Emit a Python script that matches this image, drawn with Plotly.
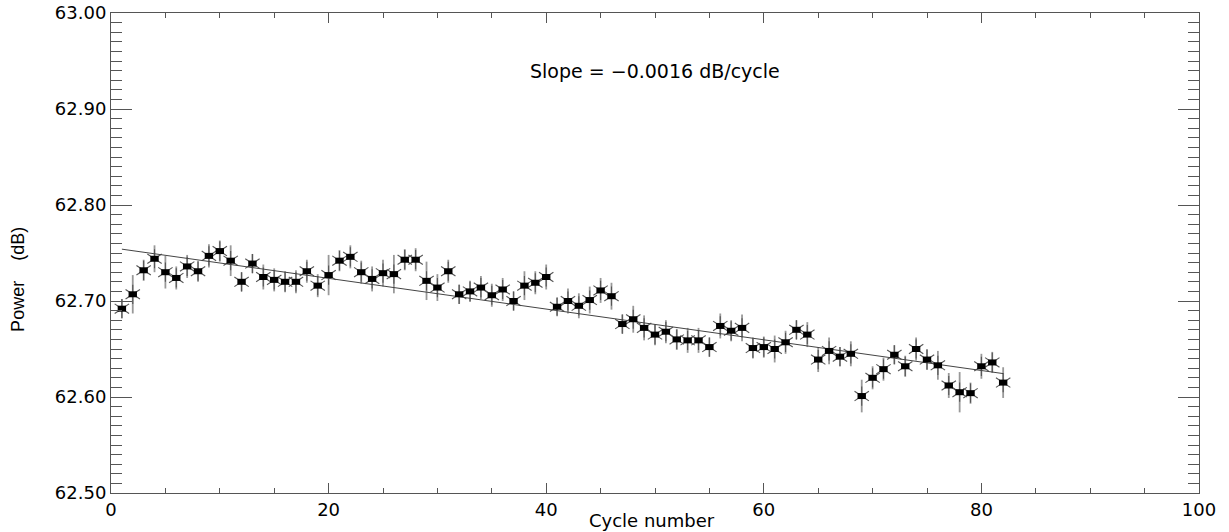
import plotly.graph_objects as go
import numpy as np

cycles = list(range(1, 83))
power_db = [
    62.692, 62.707, 62.732, 62.744, 62.730, 62.724, 62.736, 62.731, 62.747, 62.752,
    62.742, 62.720, 62.739, 62.725, 62.722, 62.720, 62.720, 62.731, 62.716, 62.727,
    62.742, 62.746, 62.730, 62.723, 62.729, 62.728, 62.743, 62.743, 62.721, 62.714,
    62.731, 62.707, 62.710, 62.714, 62.706, 62.712, 62.700, 62.716, 62.719, 62.725,
    62.694, 62.700, 62.695, 62.701, 62.711, 62.705, 62.676, 62.681, 62.672, 62.665,
    62.668, 62.660, 62.659, 62.659, 62.652, 62.674, 62.669, 62.672, 62.651, 62.652,
    62.650, 62.657, 62.670, 62.665, 62.639, 62.648, 62.642, 62.645, 62.601, 62.620,
    62.629, 62.644, 62.632, 62.650, 62.639, 62.633, 62.612, 62.605, 62.604, 62.632,
    62.636, 62.615,
]
power_err = [
    0.010, 0.020, 0.011, 0.014, 0.017, 0.012, 0.012, 0.011, 0.012, 0.011,
    0.016, 0.010, 0.010, 0.013, 0.012, 0.011, 0.012, 0.012, 0.012, 0.021,
    0.011, 0.012, 0.012, 0.013, 0.014, 0.020, 0.011, 0.012, 0.020, 0.014,
    0.012, 0.010, 0.011, 0.012, 0.012, 0.012, 0.010, 0.015, 0.012, 0.013,
    0.009, 0.013, 0.013, 0.014, 0.013, 0.014, 0.010, 0.014, 0.013, 0.011,
    0.012, 0.011, 0.013, 0.013, 0.010, 0.013, 0.011, 0.014, 0.011, 0.011,
    0.014, 0.012, 0.010, 0.013, 0.013, 0.014, 0.010, 0.013, 0.017, 0.012,
    0.012, 0.010, 0.011, 0.012, 0.011, 0.015, 0.013, 0.021, 0.011, 0.013,
    0.011, 0.016,
]
fit_slope = -0.0016
fit_intercept = 62.7556
fit_range = [1, 82]

x_ticks = [0, 20, 40, 60, 80, 100]
y_ticks = [62.50, 62.60, 62.70, 62.80, 62.90, 63.00]
y_ticklabels = ["62.50", "62.60", "62.70", "62.80", "62.90", "63.00"]

FONT = "DejaVu Sans, Liberation Sans, Arial, sans-serif"

fig = go.Figure()

# error bars
fig.add_trace(go.Scatter(
    x=cycles, y=power_db, mode="markers",
    marker=dict(size=1, color="rgba(0,0,0,0)"),
    error_y=dict(type="data", array=power_err, visible=True,
                 color="#999999", thickness=1.8, width=0),
    showlegend=False, hoverinfo="skip"))

# star arms (6-pointed)
for sym in ["y-up-open", "y-down-open"]:
    fig.add_trace(go.Scatter(
        x=cycles, y=power_db, mode="markers",
        marker=dict(symbol=sym, size=12, color="#555555",
                    line=dict(width=1.1, color="#555555")),
        showlegend=False, hoverinfo="skip"))

# fit line
fx = np.array(fit_range, dtype=float)
fig.add_trace(go.Scatter(
    x=fx, y=fit_intercept + fit_slope * fx, mode="lines",
    line=dict(color="#444444", width=1),
    showlegend=False, hoverinfo="skip"))

# black rectangular centres
fig.add_trace(go.Scatter(
    x=cycles, y=power_db, mode="markers",
    marker=dict(symbol="line-ew", size=6, color="black",
                line=dict(width=6, color="black")),
    showlegend=False))

fig.add_annotation(x=50, y=62.94, xref="x", yref="y",
                   text="Slope = \u22120.0016 dB/cycle", showarrow=False,
                   font=dict(family=FONT, size=19, color="black"))

fig.add_annotation(x=-(111 - 18) / 1088, y=0.444, xref="paper", yref="paper",
                   text="Power\u00a0\u00a0\u00a0\u00a0(dB)", textangle=-90,
                   showarrow=False, xanchor="center", yanchor="middle",
                   font=dict(family="Liberation Sans Narrow, Liberation Sans, Arial", size=18, color="black"))

fig.add_annotation(x=0.497, y=-(520 - 493) / 480, xref="paper", yref="paper",
                   text="Cycle number", showarrow=False,
                   xanchor="center", yanchor="middle",
                   font=dict(family=FONT, size=18, color="black"))

axis_common = dict(showline=True, linecolor="#555555", linewidth=1,
                   mirror="allticks", ticks="inside", tickcolor="#555555",
                   tickwidth=1, showgrid=False, zeroline=False, automargin=False,
                   tickfont=dict(family=FONT, size=18, color="black"))

fig.update_xaxes(range=[0, 100], tickvals=x_ticks, ticklen=10,
                 minor=dict(dtick=5, ticks="inside", ticklen=5, tickcolor="#555555", showgrid=False),
                 **axis_common)
fig.update_yaxes(range=[62.50, 63.00], tickvals=y_ticks, ticktext=y_ticklabels, ticklen=21,
                 minor=dict(dtick=0.01, ticks="inside", ticklen=11, tickcolor="#555555", showgrid=False),
                 **axis_common)

fig.update_layout(width=1229, height=532,
                  margin=dict(l=111, r=30, t=13, b=39),
                  plot_bgcolor="white", paper_bgcolor="white",
                  showlegend=False)

fig.write_html("out.html", config={"displayModeBar": False},
               post_script="document.body.style.margin='0';document.body.style.overflow='hidden';")
